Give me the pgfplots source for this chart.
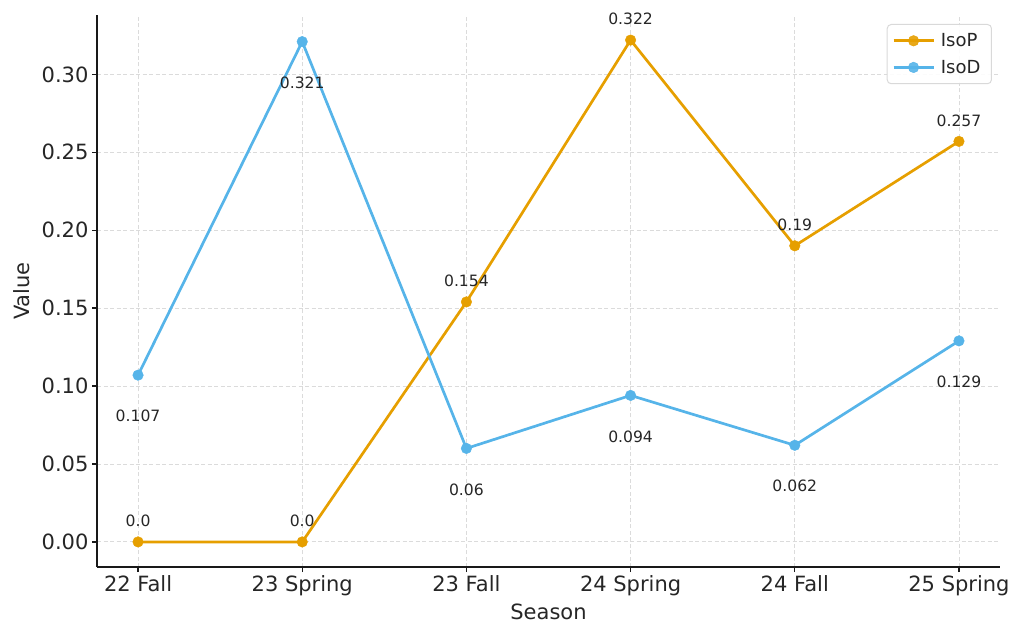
\documentclass[border=0pt]{standalone}
\usepackage{pgfplots}
\pgfplotsset{compat=1.18}
\usepackage{fontspec}
\setmainfont{DejaVu Sans}
\definecolor{cP}{HTML}{E69F00}
\definecolor{cD}{HTML}{56B4E9}
\definecolor{txt}{HTML}{262626}
\begin{document}
\begin{tikzpicture}
\path[use as bounding box] (0,0) rectangle (1024pt,637pt);
\begin{axis}[
  at={(97pt,70pt)}, anchor=south west,
  scale only axis, width=903pt, height=552pt,
  xmin=-0.25, xmax=5.25, ymin=-0.0161, ymax=0.3381,
  axis x line*=bottom, axis y line*=left,
  axis line style={line width=1.6pt, black!90, -},
  xtick={0,1,2,3,4,5},
  xticklabels={22 Fall, 23 Spring, 23 Fall, 24 Spring, 24 Fall, 25 Spring},
  ytick={0,0.05,0.1,0.15,0.2,0.25,0.3},
  /pgf/number format/assume math mode=true,
  yticklabel style={/pgf/number format/.cd, fixed, fixed zerofill, precision=2},
  tick label style={font=\fontsize{21}{25}\selectfont, text=txt},
  tick align=outside, major tick length=5pt,
  tick style={line width=1.4pt, black!90},
  grid=major,
  major grid style={black!14, line width=0.9pt, dash pattern=on 4pt off 2.5pt},
  xlabel={Season}, ylabel={Value},
  every axis x label/.style={at={(axis description cs:0.5,-0.0815)}, anchor=center},
  every axis y label/.style={at={(axis description cs:-0.0831,0.5)}, anchor=center, rotate=90},
  label style={font=\fontsize{21}{25}\selectfont, text=txt},
  legend style={at={(0.9911,0.9837)}, anchor=north east, draw=black!15, line width=1pt,
    rounded corners=4pt, fill=white, fill opacity=0.9, text opacity=1,
    font=\fontsize{18}{22}\selectfont, text=txt, inner xsep=5pt, inner ysep=8pt,
    row sep=10pt, nodes={inner xsep=6pt, inner ysep=1pt}},
  legend cell align=left,
  legend image code/.code={\draw[mark repeat=2, mark phase=2, #1] plot coordinates {(0pt,0pt) (20pt,0pt) (40pt,0pt)};},
  clip=false,
]
\addplot[cP, line width=2.7pt, mark=*, mark size=5.3pt,
  mark options={solid, line width=0.4pt, fill=cP, draw=cP},
  nodes near coords, point meta=explicit symbolic,
  nodes near coords style={anchor=center, yshift=21pt, font=\fontsize{15.6}{18}\selectfont, text=txt}]
  coordinates {(0,0) [0.0] (1,0) [0.0] (2,0.154) [0.154] (3,0.322) [0.322] (4,0.19) [0.19] (5,0.257) [0.257]};
\addlegendentry{IsoP}
\addplot[cD, line width=2.7pt, mark=*, mark size=5.3pt,
  mark options={solid, line width=0.4pt, fill=cD, draw=cD},
  nodes near coords, point meta=explicit symbolic,
  nodes near coords style={anchor=center, yshift=-41pt, font=\fontsize{15.6}{18}\selectfont, text=txt}]
  coordinates {(0,0.107) [0.107] (1,0.321) [0.321] (2,0.06) [0.06] (3,0.094) [0.094] (4,0.062) [0.062] (5,0.129) [0.129]};
\addlegendentry{IsoD}
\end{axis}
\end{tikzpicture}
\end{document}
